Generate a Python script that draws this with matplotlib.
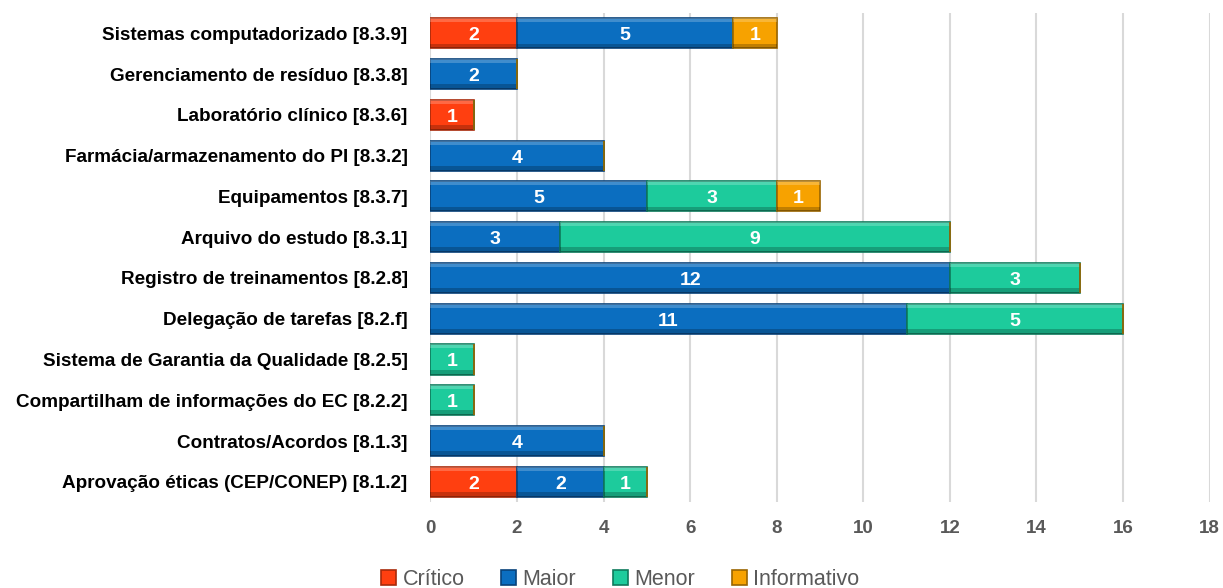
import matplotlib.pyplot as plt
import numpy as np

categories = [
    "Sistemas computadorizado [8.3.9]",
    "Gerenciamento de resíduo [8.3.8]",
    "Laboratório clínico [8.3.6]",
    "Farmácia/armazenamento do PI [8.3.2]",
    "Equipamentos [8.3.7]",
    "Arquivo do estudo [8.3.1]",
    "Registro de treinamentos [8.2.8]",
    "Delegação de tarefas [8.2.f]",
    "Sistema de Garantia da Qualidade [8.2.5]",
    "Compartilham de informações do EC [8.2.2]",
    "Contratos/Acordos [8.1.3]",
    "Aprovação éticas (CEP/CONEP) [8.1.2]",
]
critico = [2, 0, 1, 0, 0, 0, 0, 0, 0, 0, 0, 2]
maior = [5, 2, 0, 4, 5, 3, 12, 11, 0, 0, 4, 2]
menor = [0, 0, 0, 0, 3, 9, 3, 5, 1, 1, 0, 1]
informativo = [1, 0, 0, 0, 1, 0, 0, 0, 0, 0, 0, 0]

series = [
    ("Crítico", critico, "#FF3F10", "#A82A0A"),
    ("Maior", maior, "#0B6EC0", "#08427A"),
    ("Menor", menor, "#1DCB9C", "#0E7A5C"),
    ("Informativo", informativo, "#F7A200", "#9A6500"),
]

plt.rcParams["font.family"] = ["Liberation Sans", "DejaVu Sans"]

fig = plt.figure(figsize=(12.23, 5.88), dpi=100)
ax = fig.add_axes([0.352, 0.146, 0.637, 0.832])

y = np.arange(len(categories))
h = 0.74
left = np.zeros(len(categories))
handles = []
for name, vals, color, edge in series:
    vals = np.array(vals, dtype=float)
    bars = ax.barh(y, vals, left=left, height=h, color=color,
                   edgecolor=edge, linewidth=1.2, label=name)
    # thin light / dark bands to hint at the bevelled look
    ax.barh(y - h / 2 + 0.05, vals, left=left, height=0.1,
            color="white", alpha=0.22, linewidth=0)
    ax.barh(y + h / 2 - 0.06, vals, left=left, height=0.12,
            color="black", alpha=0.22, linewidth=0)
    for yi, v, l in zip(y, vals, left):
        if v > 0:
            ax.text(l + v / 2, yi + 0.06, f"{int(v)}", ha="center", va="center",
                    color="white", fontsize=14, fontweight="bold")
    left += vals
    handles.append(bars)

ax.set_ylim(len(categories) - 0.5, -0.5)
ax.set_xlim(0, 18)
ax.set_xticks(np.arange(0, 19, 2))
ax.set_yticks(y)
ax.set_yticklabels(categories, fontsize=13.6, fontweight="bold", color="black")
ax.tick_params(axis="x", labelsize=13.5, labelcolor="#595959", length=0, pad=13)
ax.tick_params(axis="y", length=0, pad=16.5)
for lbl in ax.get_xticklabels():
    lbl.set_fontweight("bold")
ax.grid(axis="x", color="#D9D9D9", linewidth=1.5)
ax.set_axisbelow(True)
for s in ax.spines.values():
    s.set_visible(False)

fig.legend(handles=handles, labels=[s[0] for s in series], loc="lower center",
           bbox_to_anchor=(0.507, -0.037), ncol=4, frameon=False,
           fontsize=15.5, handlelength=0.7, handleheight=0.7, handletextpad=0.3,
           columnspacing=1.7, labelcolor="#595959")

fig.savefig("out.png", dpi=100)
